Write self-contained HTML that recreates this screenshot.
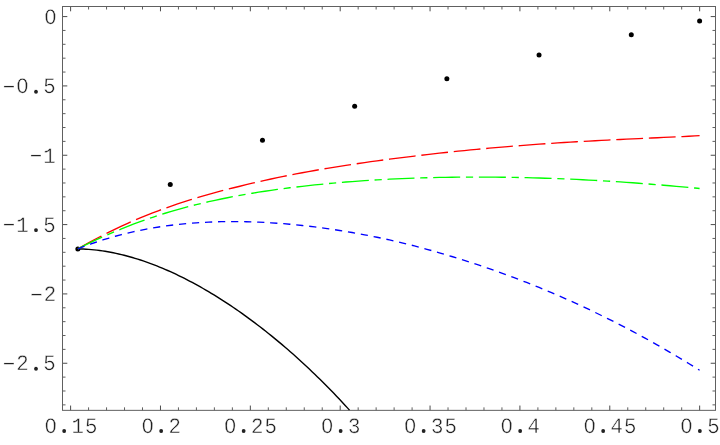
<!DOCTYPE html><html lang="en"><head><meta charset="utf-8"><title>plot</title><style>html,body{margin:0;padding:0;background:#fff}body{width:720px;height:445px;overflow:hidden}svg{display:block}text{font-family:"Liberation Mono",monospace;font-size:22px;letter-spacing:1.15px;fill:#222;white-space:pre;text-rendering:geometricPrecision}</style></head><body>
<svg width="720" height="445" viewBox="0 0 720 445" style="will-change:transform">
<rect width="720" height="445" fill="#fff"/>
<path d="M88.57 410.35v-3.00M88.57 6.50v3.00M106.55 410.35v-3.00M106.55 6.50v3.00M124.52 410.35v-3.00M124.52 6.50v3.00M142.49 410.35v-3.00M142.49 6.50v3.00M178.44 410.35v-3.00M178.44 6.50v3.00M196.41 410.35v-3.00M196.41 6.50v3.00M214.38 410.35v-3.00M214.38 6.50v3.00M232.36 410.35v-3.00M232.36 6.50v3.00M268.30 410.35v-3.00M268.30 6.50v3.00M286.28 410.35v-3.00M286.28 6.50v3.00M304.25 410.35v-3.00M304.25 6.50v3.00M322.22 410.35v-3.00M322.22 6.50v3.00M358.17 410.35v-3.00M358.17 6.50v3.00M376.14 410.35v-3.00M376.14 6.50v3.00M394.11 410.35v-3.00M394.11 6.50v3.00M412.09 410.35v-3.00M412.09 6.50v3.00M448.03 410.35v-3.00M448.03 6.50v3.00M466.01 410.35v-3.00M466.01 6.50v3.00M483.98 410.35v-3.00M483.98 6.50v3.00M501.95 410.35v-3.00M501.95 6.50v3.00M537.90 410.35v-3.00M537.90 6.50v3.00M555.87 410.35v-3.00M555.87 6.50v3.00M573.84 410.35v-3.00M573.84 6.50v3.00M591.82 410.35v-3.00M591.82 6.50v3.00M627.76 410.35v-3.00M627.76 6.50v3.00M645.74 410.35v-3.00M645.74 6.50v3.00M663.71 410.35v-3.00M663.71 6.50v3.00M681.68 410.35v-3.00M681.68 6.50v3.00M62.50 30.45h3.00M715.50 30.45h-3.00M62.50 44.31h3.00M715.50 44.31h-3.00M62.50 58.18h3.00M715.50 58.18h-3.00M62.50 72.05h3.00M715.50 72.05h-3.00M62.50 99.78h3.00M715.50 99.78h-3.00M62.50 113.65h3.00M715.50 113.65h-3.00M62.50 127.52h3.00M715.50 127.52h-3.00M62.50 141.38h3.00M715.50 141.38h-3.00M62.50 169.12h3.00M715.50 169.12h-3.00M62.50 182.98h3.00M715.50 182.98h-3.00M62.50 196.85h3.00M715.50 196.85h-3.00M62.50 210.72h3.00M715.50 210.72h-3.00M62.50 238.45h3.00M715.50 238.45h-3.00M62.50 252.32h3.00M715.50 252.32h-3.00M62.50 266.19h3.00M715.50 266.19h-3.00M62.50 280.05h3.00M715.50 280.05h-3.00M62.50 307.79h3.00M715.50 307.79h-3.00M62.50 321.65h3.00M715.50 321.65h-3.00M62.50 335.52h3.00M715.50 335.52h-3.00M62.50 349.39h3.00M715.50 349.39h-3.00M62.50 377.12h3.00M715.50 377.12h-3.00M62.50 390.99h3.00M715.50 390.99h-3.00M62.50 404.86h3.00M715.50 404.86h-3.00" fill="none" stroke="#2a2a2a" stroke-width="0.75"/>
<path d="M70.60 410.35v-4.80M70.60 6.50v4.80M160.47 410.35v-4.80M160.47 6.50v4.80M250.33 410.35v-4.80M250.33 6.50v4.80M340.19 410.35v-4.80M340.19 6.50v4.80M430.06 410.35v-4.80M430.06 6.50v4.80M519.92 410.35v-4.80M519.92 6.50v4.80M609.79 410.35v-4.80M609.79 6.50v4.80M699.65 410.35v-4.80M699.65 6.50v4.80M62.50 16.58h4.80M715.50 16.58h-4.80M62.50 85.91h4.80M715.50 85.91h-4.80M62.50 155.25h4.80M715.50 155.25h-4.80M62.50 224.58h4.80M715.50 224.58h-4.80M62.50 293.92h4.80M715.50 293.92h-4.80M62.50 363.25h4.80M715.50 363.25h-4.80" fill="none" stroke="#2a2a2a" stroke-width="0.85"/>
<rect x="62.5" y="6.5" width="653.0" height="403.85" fill="none" stroke="#606060" stroke-width="1.0"/>
<g fill="#000"><circle cx="77.85" cy="248.9" r="2.5"/><circle cx="170.26" cy="184.4" r="2.5"/><circle cx="262.47" cy="140.13" r="2.5"/><circle cx="354.66" cy="106.17" r="2.5"/><circle cx="446.87" cy="78.74" r="2.5"/><circle cx="539.04" cy="55.06" r="2.5"/><circle cx="631.3" cy="34.74" r="2.5"/><circle cx="699.6" cy="21.04" r="2.5"/></g>
<g fill="none" stroke-linecap="butt" stroke-linejoin="round">
<path d="M77.85 248.90 L80.57 248.96 L83.30 249.05 L86.02 249.19 L88.74 249.38 L91.47 249.60 L94.19 249.86 L96.91 250.16 L99.64 250.50 L102.36 250.88 L105.08 251.30 L107.81 251.76 L110.53 252.25 L113.25 252.78 L115.98 253.35 L118.70 253.95 L121.42 254.59 L124.15 255.26 L126.87 255.97 L129.59 256.71 L132.32 257.49 L135.04 258.30 L137.76 259.14 L140.49 260.02 L143.21 260.92 L145.93 261.86 L148.66 262.84 L151.38 263.84 L154.10 264.87 L156.83 265.94 L159.55 267.04 L162.27 268.16 L165.00 269.32 L167.72 270.50 L170.44 271.72 L173.17 272.96 L175.89 274.23 L178.61 275.54 L181.34 276.86 L184.06 278.22 L186.78 279.61 L189.51 281.02 L192.23 282.46 L194.95 283.93 L197.68 285.43 L200.40 286.95 L203.12 288.50 L205.85 290.07 L208.57 291.68 L211.29 293.31 L214.02 294.96 L216.74 296.64 L219.46 298.35 L222.19 300.08 L224.91 301.84 L227.63 303.62 L230.36 305.44 L233.08 307.27 L235.80 309.13 L238.53 311.02 L241.25 312.93 L243.97 314.87 L246.70 316.83 L249.42 318.82 L252.14 320.83 L254.87 322.87 L257.59 324.94 L260.31 327.03 L263.03 329.14 L265.76 331.28 L268.48 333.45 L271.20 335.64 L273.93 337.86 L276.65 340.10 L279.37 342.37 L282.10 344.66 L284.82 346.98 L287.54 349.33 L290.27 351.70 L292.99 354.10 L295.71 356.52 L298.44 358.98 L301.16 361.45 L303.88 363.96 L306.61 366.49 L309.33 369.05 L312.05 371.64 L314.78 374.25 L317.50 376.90 L320.22 379.57 L322.95 382.26 L325.67 384.99 L328.39 387.75 L331.12 390.53 L333.84 393.34 L336.56 396.19 L339.29 399.06 L342.01 401.96 L344.73 404.90 L347.46 407.86 L349.50 410.10" stroke="#000" stroke-width="1.4"/>
<path d="M77.85 248.90 L84.08 245.29 L90.32 241.84 L96.55 238.52 L102.78 235.30 L109.02 232.16 L115.25 229.15 L121.48 226.21 L127.71 223.34 L133.95 220.57 L140.18 217.91 L146.41 215.34 L152.65 212.88 L158.88 210.52 L165.11 208.24 L171.35 206.04 L177.58 203.92 L183.81 201.87 L190.05 199.89 L196.28 197.98 L202.51 196.13 L208.74 194.35 L214.98 192.62 L221.21 190.94 L227.44 189.32 L233.68 187.75 L239.91 186.22 L246.14 184.69 L252.38 183.20 L258.61 181.76 L264.84 180.35 L271.08 178.98 L277.31 177.65 L283.54 176.38 L289.77 175.14 L296.01 173.94 L302.24 172.76 L308.47 171.61 L314.71 170.49 L320.94 169.39 L327.17 168.32 L333.41 167.30 L339.64 166.31 L345.87 165.34 L352.11 164.40 L358.34 163.48 L364.57 162.57 L370.80 161.69 L377.04 160.83 L383.27 159.99 L389.50 159.16 L395.74 158.36 L401.97 157.57 L408.20 156.80 L414.44 156.05 L420.67 155.31 L426.90 154.58 L433.14 153.87 L439.37 153.17 L445.60 152.49 L451.83 151.83 L458.07 151.18 L464.30 150.55 L470.53 149.93 L476.77 149.33 L483.00 148.75 L489.23 148.18 L495.47 147.63 L501.70 147.10 L507.93 146.58 L514.17 146.07 L520.40 145.58 L526.63 145.10 L532.87 144.64 L539.10 144.19 L545.33 143.76 L551.56 143.33 L557.80 142.93 L564.03 142.53 L570.26 142.15 L576.50 141.78 L582.73 141.42 L588.96 141.08 L595.20 140.74 L601.43 140.41 L607.66 140.09 L613.90 139.78 L620.13 139.48 L626.36 139.18 L632.59 138.89 L638.83 138.60 L645.06 138.31 L651.29 138.03 L657.53 137.74 L663.76 137.45 L669.99 137.16 L676.23 136.86 L682.46 136.56 L688.69 136.24 L694.93 135.92 L699.60 135.67" stroke="#f00" stroke-width="1.35" stroke-dasharray="26.8 5.8"/>
<path d="M77.85 248.90 L84.08 245.70 L90.32 242.62 L96.55 239.66 L102.78 236.81 L109.02 234.08 L115.25 231.45 L121.48 228.90 L127.71 226.39 L133.95 223.98 L140.18 221.66 L146.41 219.44 L152.65 217.29 L158.88 215.24 L165.11 213.26 L171.35 211.36 L177.58 209.56 L183.81 207.85 L190.05 206.21 L196.28 204.64 L202.51 203.14 L208.74 201.69 L214.98 200.31 L221.21 198.99 L227.44 197.73 L233.68 196.52 L239.91 195.37 L246.14 194.26 L252.38 193.21 L258.61 192.20 L264.84 191.24 L271.08 190.32 L277.31 189.43 L283.54 188.59 L289.77 187.79 L296.01 187.03 L302.24 186.30 L308.47 185.62 L314.71 184.94 L320.94 184.30 L327.17 183.69 L333.41 183.11 L339.64 182.56 L345.87 182.04 L352.11 181.55 L358.34 181.09 L364.57 180.65 L370.80 180.25 L377.04 179.87 L383.27 179.52 L389.50 179.20 L395.74 178.90 L401.97 178.62 L408.20 178.37 L414.44 178.14 L420.67 177.94 L426.90 177.75 L433.14 177.59 L439.37 177.45 L445.60 177.33 L451.83 177.23 L458.07 177.16 L464.30 177.11 L470.53 177.08 L476.77 177.07 L483.00 177.08 L489.23 177.11 L495.47 177.16 L501.70 177.22 L507.93 177.31 L514.17 177.41 L520.40 177.53 L526.63 177.67 L532.87 177.83 L539.10 178.01 L545.33 178.21 L551.56 178.42 L557.80 178.65 L564.03 178.90 L570.26 179.17 L576.50 179.45 L582.73 179.76 L588.96 180.08 L595.20 180.41 L601.43 180.77 L607.66 181.14 L613.90 181.53 L620.13 181.93 L626.36 182.36 L632.59 182.79 L638.83 183.25 L645.06 183.72 L651.29 184.21 L657.53 184.71 L663.76 185.23 L669.99 185.76 L676.23 186.31 L682.46 186.87 L688.69 187.45 L694.93 188.04 L699.60 188.49" stroke="#0f0" stroke-width="1.35" stroke-dasharray="27 5.75 7.2 5.75"/>
<path d="M77.85 248.90 L84.08 246.46 L90.32 244.15 L96.55 241.99 L102.78 239.96 L109.02 238.05 L115.25 236.27 L121.48 234.61 L127.71 233.07 L133.95 231.64 L140.18 230.32 L146.41 229.10 L152.65 227.99 L158.88 226.98 L165.11 226.06 L171.35 225.24 L177.58 224.50 L183.81 223.86 L190.05 223.30 L196.28 222.82 L202.51 222.43 L208.74 222.11 L214.98 221.87 L221.21 221.70 L227.44 221.60 L233.68 221.58 L239.91 221.62 L246.14 221.73 L252.38 221.90 L258.61 222.14 L264.84 222.44 L271.08 222.80 L277.31 223.22 L283.54 223.70 L289.77 224.23 L296.01 224.82 L302.24 225.47 L308.47 226.17 L314.71 226.93 L320.94 227.73 L327.17 228.59 L333.41 229.50 L339.64 230.46 L345.87 231.48 L352.11 232.54 L358.34 233.65 L364.57 234.81 L370.80 236.02 L377.04 237.27 L383.27 238.58 L389.50 239.93 L395.74 241.34 L401.97 242.80 L408.20 244.35 L414.44 245.94 L420.67 247.59 L426.90 249.28 L433.14 251.02 L439.37 252.80 L445.60 254.64 L451.83 256.51 L458.07 258.41 L464.30 260.35 L470.53 262.35 L476.77 264.39 L483.00 266.48 L489.23 268.62 L495.47 270.81 L501.70 273.06 L507.93 275.35 L514.17 277.69 L520.40 280.08 L526.63 282.49 L532.87 284.96 L539.10 287.47 L545.33 290.04 L551.56 292.66 L557.80 295.33 L564.03 298.05 L570.26 300.82 L576.50 303.65 L582.73 306.53 L588.96 309.47 L595.20 312.45 L601.43 315.49 L607.66 318.56 L613.90 321.69 L620.13 324.87 L626.36 328.10 L632.59 331.39 L638.83 334.73 L645.06 338.12 L651.29 341.57 L657.53 345.10 L663.76 348.68 L669.99 352.32 L676.23 356.00 L682.46 359.74 L688.69 363.52 L694.93 367.35 L699.60 370.26" stroke="#00f" stroke-width="1.35" stroke-dasharray="7.2 5.85"/>
</g>
<g stroke="#fff" stroke-width="0.4">
<text transform="translate(44.45 432.50) scale(0.94 1)">0.15</text>
<text transform="translate(141.45 432.50) scale(0.94 1)">0.2</text>
<text transform="translate(223.95 432.50) scale(0.94 1)">0.25</text>
<text transform="translate(320.95 432.50) scale(0.94 1)">0.3</text>
<text transform="translate(403.95 432.50) scale(0.94 1)">0.35</text>
<text transform="translate(500.45 432.50) scale(0.94 1)">0.4</text>
<text transform="translate(583.45 432.50) scale(0.94 1)">0.45</text>
<text transform="translate(680.15 432.50) scale(0.94 1)">0.5</text>
<text transform="translate(44.25 23.55) scale(0.94 1)">0</text>
<text transform="translate(2.82 93.45) scale(0.94 1)"><tspan dy="0.6">−</tspan><tspan dy="-0.6">0.5</tspan></text>
<text transform="translate(29.82 162.65) scale(0.94 1)"><tspan dy="0.6">−</tspan><tspan dy="-0.6">1</tspan></text>
<text transform="translate(2.82 231.70) scale(0.94 1)"><tspan dy="0.6">−</tspan><tspan dy="-0.6">1.5</tspan></text>
<text transform="translate(30.32 301.30) scale(0.94 1)"><tspan dy="0.6">−</tspan><tspan dy="-0.6">2</tspan></text>
<text transform="translate(2.82 370.45) scale(0.94 1)"><tspan dy="0.6">−</tspan><tspan dy="-0.6">2.5</tspan></text>
</g>
<g fill="#222"><circle cx="64.14" cy="430.89" r="1.9"/><circle cx="161.14" cy="430.89" r="1.9"/><circle cx="243.64" cy="430.89" r="1.9"/><circle cx="340.64" cy="430.89" r="1.9"/><circle cx="423.64" cy="430.89" r="1.9"/><circle cx="520.14" cy="430.89" r="1.9"/><circle cx="603.14" cy="430.89" r="1.9"/><circle cx="699.84" cy="430.89" r="1.9"/><circle cx="36.00" cy="91.84" r="1.9"/><circle cx="36.00" cy="230.09" r="1.9"/><circle cx="36.00" cy="368.84" r="1.9"/></g>
<g fill="#fff"><ellipse cx="50.65" cy="425.25" rx="2.0" ry="3.2"/><ellipse cx="147.65" cy="425.25" rx="2.0" ry="3.2"/><ellipse cx="230.15" cy="425.25" rx="2.0" ry="3.2"/><ellipse cx="327.15" cy="425.25" rx="2.0" ry="3.2"/><ellipse cx="410.15" cy="425.25" rx="2.0" ry="3.2"/><ellipse cx="506.65" cy="425.25" rx="2.0" ry="3.2"/><ellipse cx="589.65" cy="425.25" rx="2.0" ry="3.2"/><ellipse cx="686.35" cy="425.25" rx="2.0" ry="3.2"/><ellipse cx="50.45" cy="16.30" rx="2.0" ry="3.2"/><ellipse cx="22.51" cy="86.20" rx="2.0" ry="3.2"/></g>
</svg></body></html>
